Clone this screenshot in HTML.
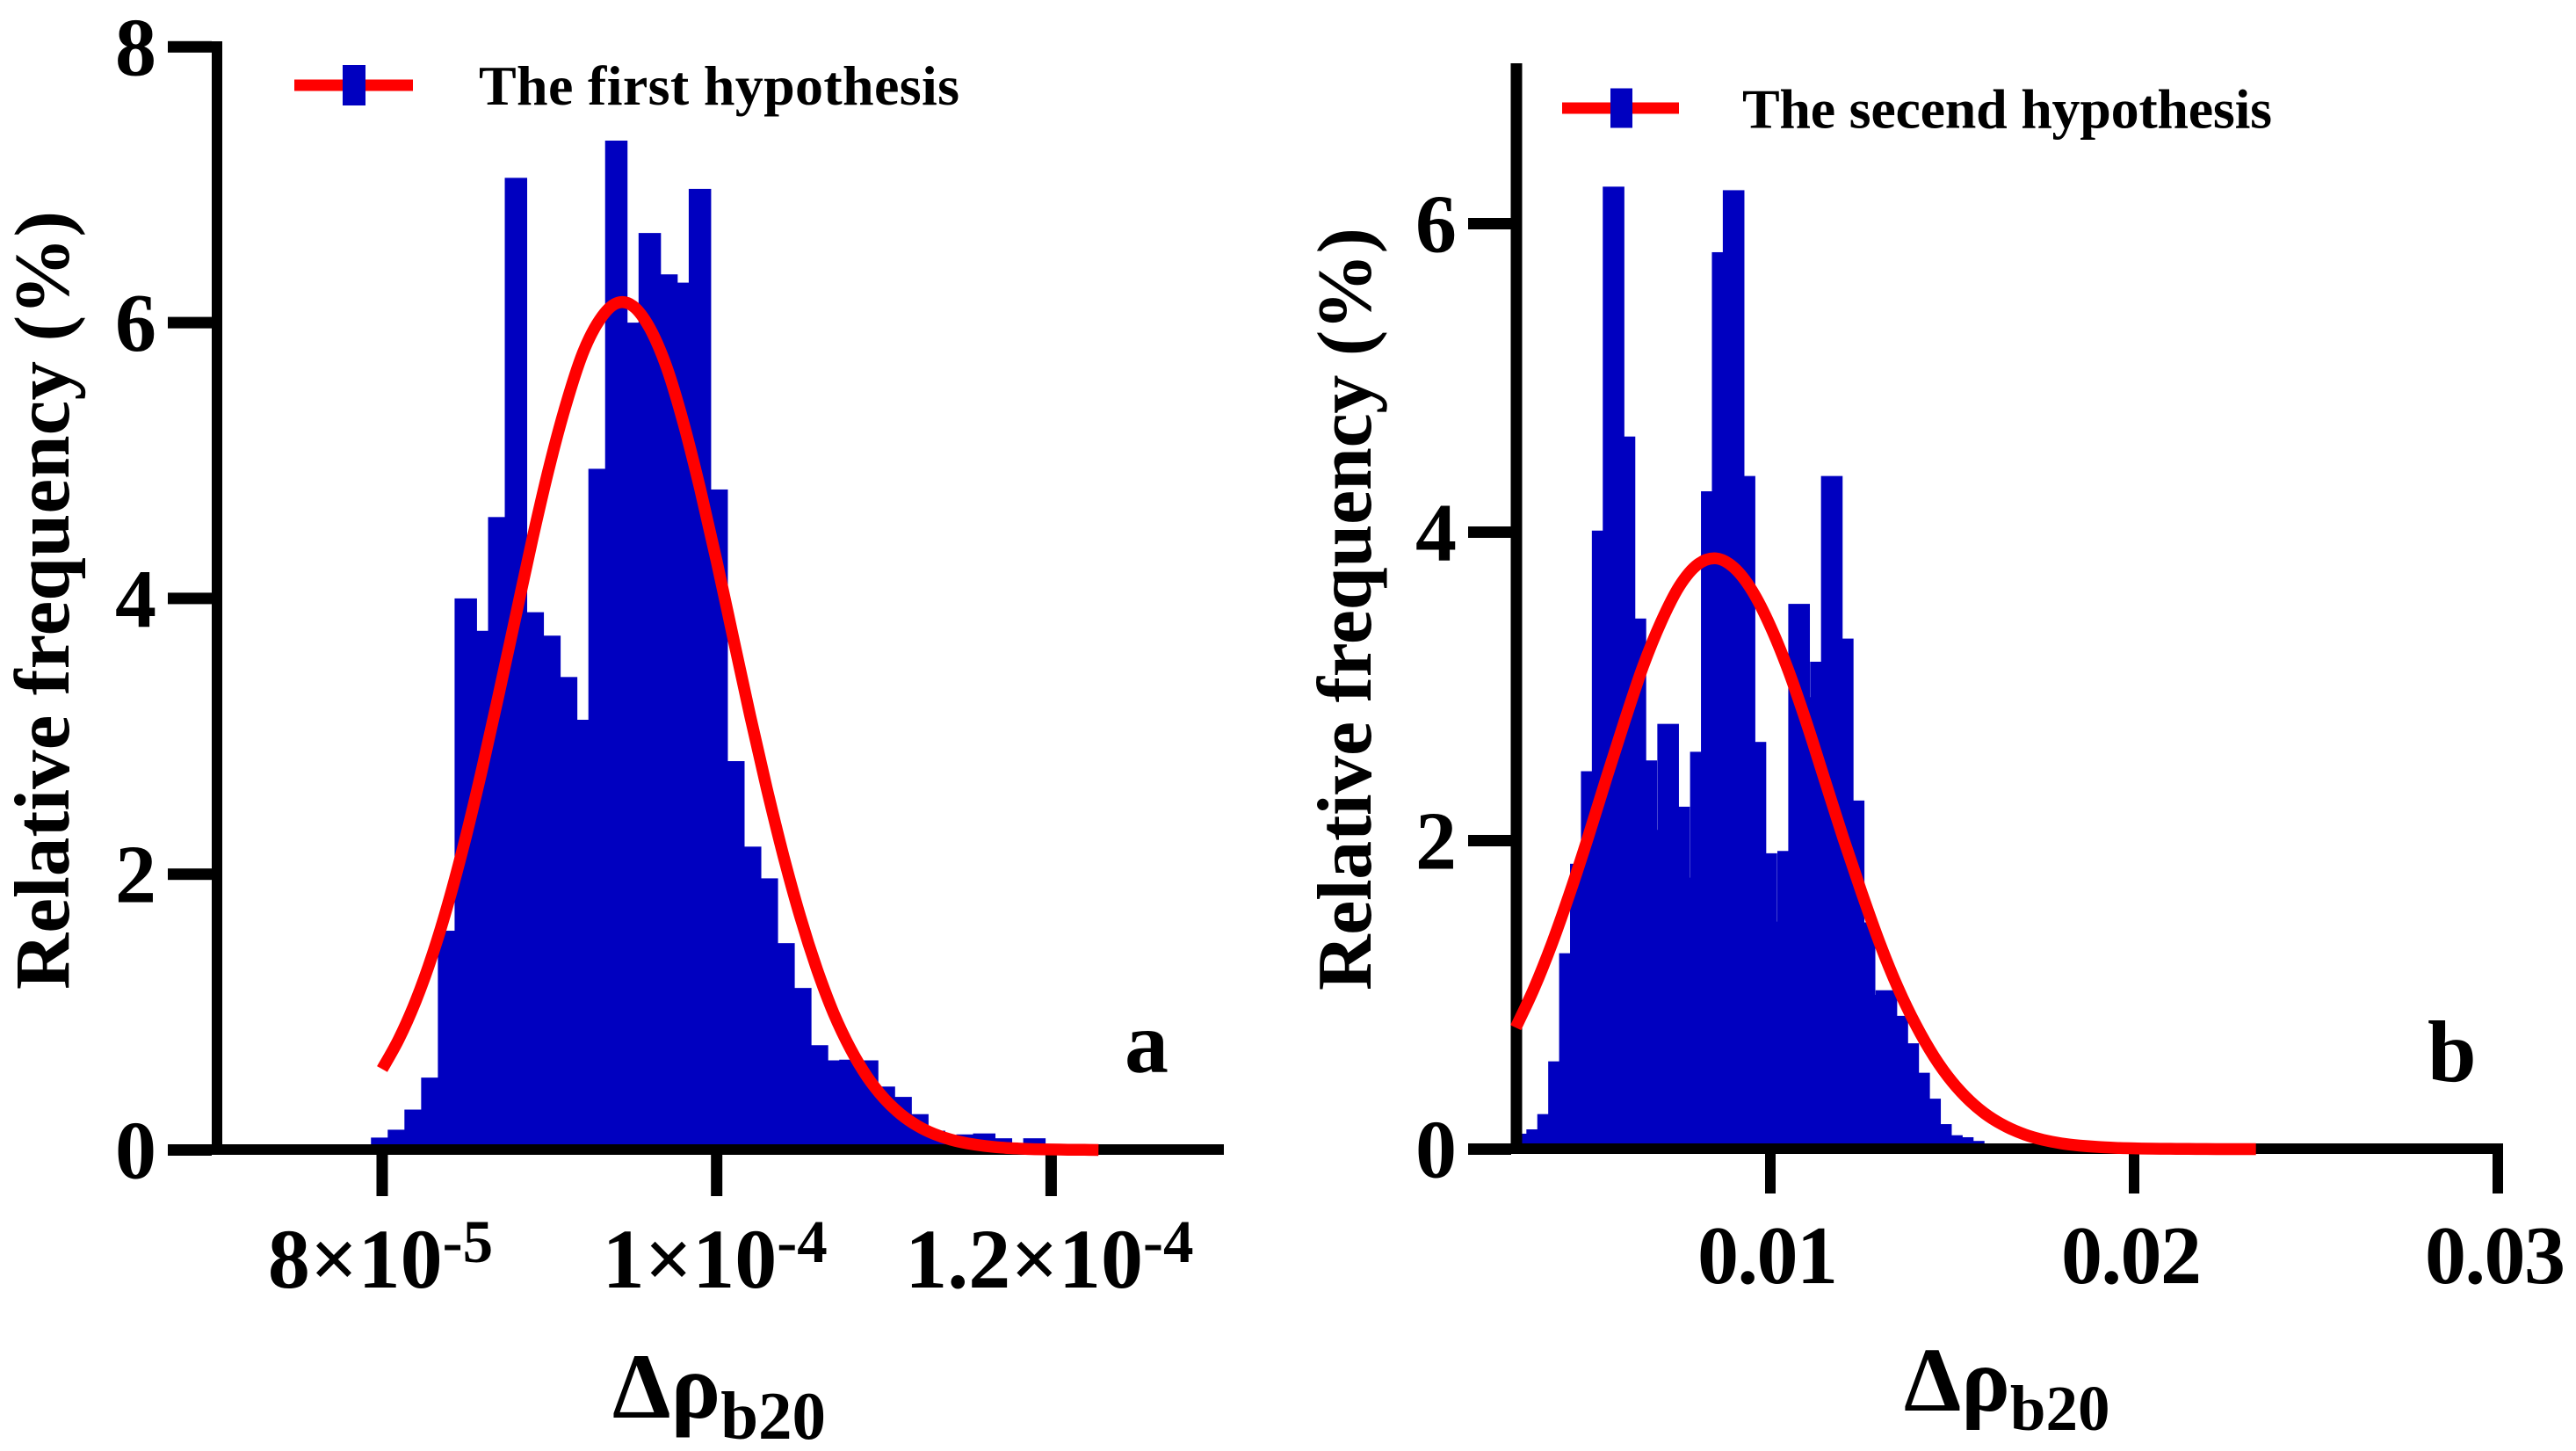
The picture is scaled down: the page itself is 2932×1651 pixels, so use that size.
<!DOCTYPE html>
<html lang="en">
<head>
<meta charset="utf-8">
<title>Relative frequency histograms</title>
<style>
html,body{margin:0;padding:0;background:#fff;}
svg{display:block;}
text{font-family:"Liberation Serif","DejaVu Serif",serif;font-weight:bold;fill:#000;}
</style>
</head>
<body>
<svg id="chart" xmlns="http://www.w3.org/2000/svg" width="2932" height="1651" viewBox="0 0 2932 1651">
  <rect x="0" y="0" width="2932" height="1651" fill="#ffffff"/>
  <g id="panel-a"></g>
  <g id="panel-b"></g>

  <text x="78" y="683" font-size="89" text-anchor="middle" textLength="886" lengthAdjust="spacing" transform="rotate(-90 78 683)">Relative frequency (%)</text>
  <text x="1560" y="693" font-size="88" text-anchor="middle" textLength="868" lengthAdjust="spacing" transform="rotate(-90 1560 693)">Relative frequency (%)</text>

  <text x="697" y="1613" font-size="106">Δρ<tspan dy="24" font-size="77">b20</tspan></text>
  <text x="2167" y="1605" font-size="104">Δρ<tspan dy="22" font-size="73">b20</tspan></text>

  <g>
    <rect x="335" y="90.5" width="135" height="13" fill="#ff0000"/>
    <rect x="390" y="74" width="26" height="46" fill="#0000c0"/>
    <text x="545" y="119" font-size="64" textLength="547" lengthAdjust="spacing">The first hypothesis</text>
  </g>
  <g>
    <rect x="1778" y="116.5" width="133" height="13" fill="#ff0000"/>
    <rect x="1833" y="100.5" width="25" height="45" fill="#0000c0"/>
    <text x="1983" y="145.5" font-size="64" textLength="603" lengthAdjust="spacing">The secend hypothesis</text>
  </g>

  <text x="1280" y="1220" font-size="100">a</text>
  <text x="2763" y="1230" font-size="100">b</text>
</svg>
<script>
// Panel a data
const aBinStart = 8e-5;
const aBinStep = 1e-6;
const aBinWidth = 1.34e-6;
const aFrequency = [0.09,0.147,0.293,0.525,1.59,4.0,3.765,4.59,7.05,3.9,3.73,3.43,3.12,4.94,7.32,6.0,6.65,6.35,6.29,6.97,4.79,2.82,2.2,1.97,1.5,1.175,0.76,0.65,0.655,0.65,0.46,0.385,0.26,0.14,0.08,0.113,0.12,0.085,0.05,0.085];
const aCurveStart = 8e-5;
const aCurveStep = 1e-6;
const aCurveEnd = 1.2283e-4;
const aCurve = [0.587,0.805,1.079,1.414,1.812,2.27,2.777,3.32,3.88,4.44,4.96,5.41,5.78,6.02,6.14,6.12,5.96,5.68,5.28,4.80,4.27,3.71,3.15,2.62,2.13,1.69,1.31,0.99,0.734,0.531,0.376,0.26,0.176,0.116,0.075,0.048,0.03,0.018,0.011,0.006,0.004,0.002,0.001];
const aXTicks = [8e-5,1e-4,1.2e-4];
const aXTickMantissas = ['8×10','1×10','1.2×10'];
const aXTickExponents = ['-5','-4','-4'];
const aYTicks = [0,2,4,6,8];

// Panel b data
const bBinStart = 0.00299;
const bBinStep = 0.0003;
const bBinWidth = 0.000594;
const bFrequency = [0.09,0.1,0.128,0.227,0.569,1.27,1.85,2.45,4.01,6.24,4.62,3.44,2.52,2.07,2.757,2.22,1.76,2.576,4.265,5.815,6.217,4.364,2.64,1.918,1.475,1.933,3.535,2.93,3.16,4.364,3.31,2.26,1.47,1.0,1.03,0.864,0.686,0.495,0.327,0.162,0.09,0.077,0.053];
const bCurveStart = 0.003;
const bCurveStep = 0.0005;
const bCurveEnd = 0.02335;
const bCurve = [0.788,1.04,1.335,1.669,2.03,2.41,2.78,3.13,3.42,3.65,3.79,3.83,3.77,3.62,3.39,3.10,2.76,2.39,2.02,1.67,1.34,1.05,0.805,0.60,0.436,0.309,0.213,0.144,0.094,0.06,0.037,0.023,0.014,0.008,0.005,0.003,0.002,0.001,0.0005,0,0];
const bXTicks = [0.01,0.02,0.03];
const bXTickLabels = ['0.01','0.02','0.03'];
const bYTicks = [0,2,4,6];

const SVG_NS = 'http://www.w3.org/2000/svg';

// Axis functions
function xA(v){ return 435 + (v - 8e-5) * 19035000; }
function yA(v){ return 1308.5 - 156.9 * v; }
function xB(v){ return 2015 + (v - 0.01) * 41400; }
function yB(v){ return 1307.5 - 175.5 * v; }

function svgEl(tag, attrs, parent){
  const el = document.createElementNS(SVG_NS, tag);
  for (const k in attrs) el.setAttribute(k, attrs[k]);
  parent.appendChild(el);
  return el;
}

function drawBars(parent, values, start, step, width, xFn, yFn, minX, prefix){
  values.forEach(function(v, i){
    const c = start + i * step;
    const x0 = Math.max(xFn(c - width / 2), minX);
    const x1 = xFn(c + width / 2);
    const r = svgEl('rect', {x: x0, y: yFn(v), width: x1 - x0, height: yFn(0) - yFn(v), fill: '#0000c0'}, parent);
    
    
  });
}

function drawCurve(parent, values, start, step, end, xFn, yFn, prefix){
  const pts = values.map(function(v, i){
    return [xFn(start + i * step), yFn(v)];
  });
  pts.push([xFn(end), yFn(0)]);
  let d = 'M' + pts[0][0].toFixed(1) + ' ' + pts[0][1].toFixed(1);
  for (let i = 0; i < pts.length - 1; i++){
    const p0 = pts[Math.max(i - 1, 0)];
    const p1 = pts[i];
    const p2 = pts[i + 1];
    const p3 = pts[Math.min(i + 2, pts.length - 1)];
    const c1x = p1[0] + (p2[0] - p0[0]) / 6;
    const c1y = p1[1] + (p2[1] - p0[1]) / 6;
    const c2x = p2[0] - (p3[0] - p1[0]) / 6;
    const c2y = p2[1] - (p3[1] - p1[1]) / 6;
    d += ' C' + c1x.toFixed(1) + ' ' + c1y.toFixed(1) + ' ' + c2x.toFixed(1) + ' ' + c2y.toFixed(1) + ' ' + p2[0].toFixed(1) + ' ' + p2[1].toFixed(1);
  }
  const l = svgEl('path', {d: d, fill: 'none', stroke: '#ff0000', 'stroke-width': 13.5, 'stroke-linejoin': 'round', 'stroke-linecap': 'butt'}, parent);
  
  
}

function axisRect(parent, x, y, w, h, name){
  const r = svgEl('rect', {x: x, y: y, width: w, height: h, fill: '#000'}, parent);
  
  
}

function yTickSet(parent, ticks, yFn, tx0, tx1, labelX, prefix){
  ticks.forEach(function(v){
    axisRect(parent, tx0, yFn(v) - 6.5, tx1 - tx0, 13, prefix + '-y-tick');
    const t = svgEl('text', {x: labelX, y: yFn(v) + 32, 'font-size': 94, 'text-anchor': 'end'}, parent);
    t.textContent = String(v);
    
    
  });
}

// Panel a
const gA = document.getElementById('panel-a');
drawBars(gA, aFrequency, aBinStart, aBinStep, aBinWidth, xA, yA, 0, 'panel-a');
axisRect(gA, 191, 1302, 1202, 12, 'panel-a-x-axis');
axisRect(gA, 241, 47, 12, 1267, 'panel-a-y-axis');
yTickSet(gA, aYTicks, yA, 191, 241, 178, 'panel-a');
aXTicks.forEach(function(v, i){
  axisRect(gA, xA(v) - 6.5, 1314, 13, 47, 'panel-a-x-tick');
  const t = svgEl('text', {x: xA(v) - 2, y: 1465, 'font-size': 96, 'text-anchor': 'middle'}, gA);
  
  
  const m = svgEl('tspan', {}, t);
  m.textContent = aXTickMantissas[i];
  const e = svgEl('tspan', {dy: -29, 'font-size': 69}, t);
  e.textContent = aXTickExponents[i];
});
drawCurve(gA, aCurve, aCurveStart, aCurveStep, aCurveEnd, xA, yA, 'panel-a');

// Panel b
const gB = document.getElementById('panel-b');
drawBars(gB, bFrequency, bBinStart, bBinStep, bBinWidth, xB, yB, 1726, 'panel-b');
axisRect(gB, 1671, 1301, 1178, 12, 'panel-b-x-axis');
axisRect(gB, 1719.5, 72, 13, 1241, 'panel-b-y-axis');
yTickSet(gB, bYTicks, yB, 1671, 1720, 1658, 'panel-b');
bXTicks.forEach(function(v, i){
  axisRect(gB, xB(v) - 6, 1313, 12, 45, 'panel-b-x-tick');
  const t = svgEl('text', {x: xB(v) - 3, y: 1460, 'font-size': 94, 'text-anchor': 'middle', textLength: 160, lengthAdjust: 'spacing'}, gB);
  t.textContent = bXTickLabels[i];
  
  
});
drawCurve(gB, bCurve, bCurveStart, bCurveStep, bCurveEnd, xB, yB, 'panel-b');
</script>
</body>
</html>
